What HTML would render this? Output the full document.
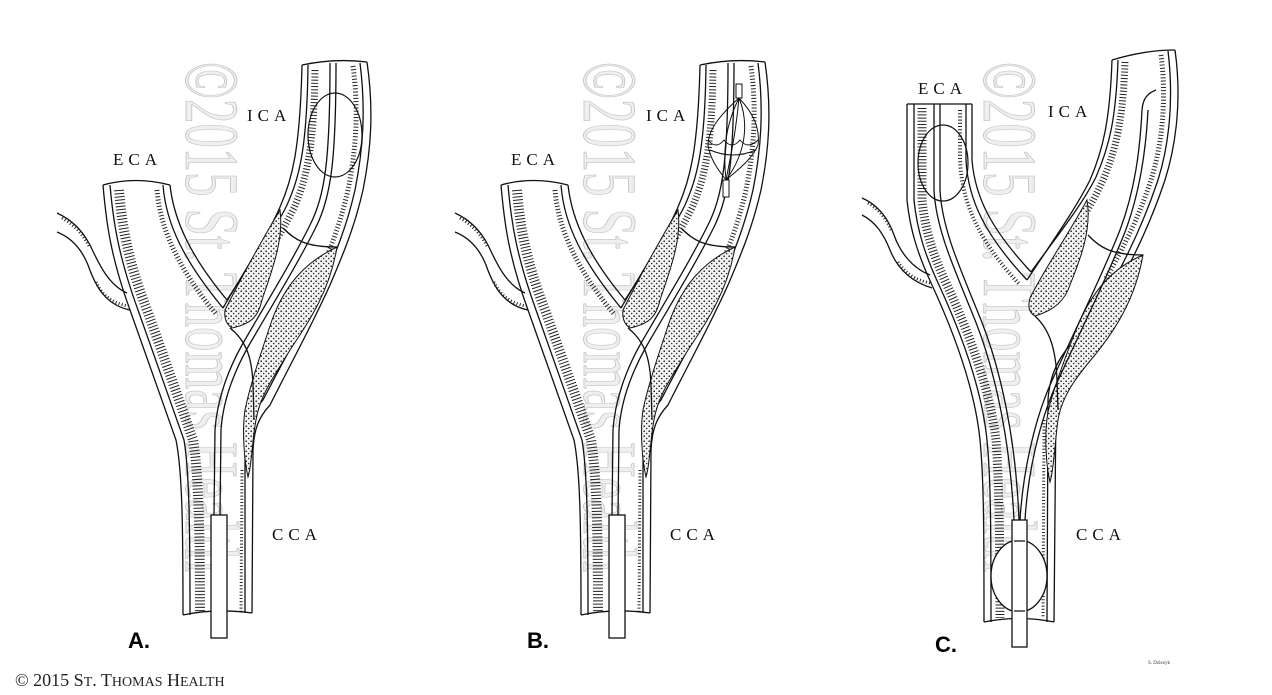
<!DOCTYPE html>
<html><head><meta charset="utf-8"><style>
html,body{margin:0;padding:0;background:#fff;}
svg{display:block;}
.l{fill:none;stroke:#111;stroke-width:1.3;}
.h{fill:none;stroke:#222;stroke-dasharray:1 2.2;}
.t{font-family:"Liberation Serif",serif;font-size:17px;letter-spacing:5px;fill:#111;}
.b{font-family:"Liberation Sans",sans-serif;font-weight:bold;font-size:22px;fill:#000;}
.wm{font-family:"Liberation Serif",serif;font-size:76px;fill:#efefef;stroke:#c4c4c4;stroke-width:0.9;}
</style></head><body>
<svg width="1272" height="695" viewBox="0 0 1272 695" xmlns="http://www.w3.org/2000/svg">
<defs>
<pattern id="dots" width="5" height="5" patternUnits="userSpaceOnUse">
<rect width="5" height="5" fill="#f2f2f2"/>
<circle cx="1.2" cy="1.2" r="0.8" fill="#111"/><circle cx="3.7" cy="3.5" r="0.75" fill="#222"/>
</pattern>
<g id="base">
<path class="l" d="M57,213 C72,220 82,230 90,245 C98,262 108,285 127,293"/>
<path class="l" d="M57,232 C72,238 82,250 88,265 C95,285 105,305 130,310"/>
<path class="h" stroke-width="3" d="M62,218 C76,226 84,236 90,248"/>
<path class="h" stroke-width="3" d="M96,282 C102,295 112,303 128,306"/>
<path class="l" d="M103,185 C106,220 110,255 130,310 C148,360 162,400 176,440 C182,470 183,520 183,615"/>
<path class="l" d="M110,185 C113,220 118,255 138,310 C156,360 170,400 184,440 C189,470 190,520 190,615"/>
<path class="h" stroke-width="10" d="M119,190 C122,225 127,258 147,310 C165,360 179,400 193,440 C198,470 200,520 200,612"/>
<path class="l" d="M103,185 Q135,176 170,185"/>
<path class="l" d="M163,185 C166,225 185,262 223,308"/>
<path class="l" d="M170,185 C174,222 192,258 227,300"/>
<path class="h" stroke-width="5" d="M157,190 C160,228 178,268 216,314"/>
<path class="l" d="M223,308 C245,270 268,235 280,207 C292,180 300,150 302,65"/>
<path class="l" d="M227,300 C249,265 274,232 287,205 C299,178 307,150 308,65"/>
<path class="h" stroke-width="7" d="M315,70 C314,150 306,180 294,208 C284,228 274,244 262,262"/>
<path class="l" d="M302,65 Q335,58 367,62"/>
<path class="l" d="M367,62 C374,110 371,150 363,190 C355,225 345,250 330,285 C312,325 290,365 270,405 C258,418 254,430 253,450 L252,613"/>
<path class="l" d="M360,63 C366,110 363,150 355,190 C347,225 337,250 322,285 C304,325 282,363 263,400 C250,415 246,428 245,450 L245,613"/>
<path class="h" stroke-width="5" d="M353,66 C359,110 356,150 348,190 C340,225 330,250 315,285"/>
<path class="h" stroke-width="3" d="M242,470 L241,612"/>
<path class="l" d="M183,615 Q215,608 252,613"/>
<path fill="url(#dots)" stroke="#111" stroke-width="1" d="M280,210 C284,240 272,270 262,300 C258,318 250,324 232,328 C226,324 224,318 225,310 C240,280 262,240 280,210Z"/>
<path fill="url(#dots)" stroke="#111" stroke-width="1" d="M337,247 C330,290 310,320 290,350 C275,375 260,395 256,420 C252,440 252,465 248,477 C244,460 242,430 245,410 C250,385 262,350 272,320 C285,285 305,262 337,247Z"/>
<path class="l" stroke-width="1" d="M283,228 C295,240 305,247 337,247"/>
<path class="l" stroke-width="1" d="M230,328 C245,340 252,355 253,385 L254,420"/>
<path class="l" d="M214,515 L215,430 C217,400 228,370 242,345 C265,305 290,265 310,225 C325,195 330,160 330,63"/>
<path class="l" d="M220,515 L221,430 C223,400 234,372 248,347 C271,307 296,267 316,227 C331,197 336,160 336,63"/>
<rect x="211" y="515" width="16" height="123" fill="#fff" stroke="#111" stroke-width="1.3"/>
</g>
</defs>

<g transform="translate(186,62) rotate(90)"><text class="wm" textLength="510" lengthAdjust="spacingAndGlyphs">©2015 St. Thomas Health</text></g>
<g transform="translate(584,62) rotate(90)"><text class="wm" textLength="510" lengthAdjust="spacingAndGlyphs">©2015 St. Thomas Health</text></g>
<g transform="translate(984,62) rotate(90)"><text class="wm" textLength="510" lengthAdjust="spacingAndGlyphs">©2015 St. Thomas Health</text></g>

<use href="#base"/>
<ellipse cx="335" cy="135" rx="27" ry="42" fill="none" stroke="#111" stroke-width="1.2"/>
<text class="t" x="247" y="121">ICA</text>
<text class="t" x="113" y="165">ECA</text>
<text class="t" x="272" y="540">CCA</text>
<text class="b" x="128" y="648">A.</text>

<g transform="translate(398,0)"><use href="#base"/></g>
<g fill="none" stroke="#111" stroke-width="1">
<rect x="736" y="84" width="6" height="14" fill="#fff"/>
<rect x="723" y="180" width="6" height="17" fill="#fff"/>
<path d="M739,98 C720,115 708,130 708,145 C710,160 720,172 726,180"/>
<path d="M739,98 C755,115 760,130 758,145 C752,160 735,172 726,180"/>
<path d="M739,98 C728,120 722,145 726,180"/>
<path d="M739,98 C748,120 748,150 726,180"/>
<path d="M739,98 C736,130 732,150 726,180"/>
<path d="M708,140 Q716,150 724,140 Q732,150 740,140 Q748,150 758,140"/>
<path d="M710,150 Q733,160 756,150"/>
</g>
<text class="t" x="646" y="121">ICA</text>
<text class="t" x="511" y="165">ECA</text>
<text class="t" x="670" y="540">CCA</text>
<text class="b" x="527" y="648">B.</text>

<g>
<path class="l" d="M862,198 C878,205 888,218 894,235 C900,252 912,268 930,275"/>
<path class="l" d="M862,215 C876,222 884,235 890,250 C898,270 912,282 932,288"/>
<path class="h" stroke-width="3" d="M868,203 C880,210 887,220 892,232"/>
<path class="h" stroke-width="3" d="M898,262 C906,274 916,280 930,283"/>
<path class="l" d="M907,104 L907,200 C910,230 918,255 932,285 C955,335 975,390 980,440 C984,480 984,540 984,622"/>
<path class="l" d="M914,104 L914,200 C917,230 925,255 939,285 C962,335 982,390 987,440 C991,480 991,540 991,622"/>
<path class="h" stroke-width="9" d="M922,108 L922,200 C925,230 933,255 947,285 C970,335 990,390 996,440 C999,480 1000,540 1000,618"/>
<path class="l" d="M907,104 L972,104"/>
<path class="l" d="M966,104 L966,160 C968,200 985,235 1027,280"/>
<path class="l" d="M972,104 L972,160 C975,198 992,230 1031,272"/>
<path class="h" stroke-width="4" d="M960,110 L960,160 C962,205 980,242 1020,285"/>
<path class="l" d="M1027,280 C1050,245 1075,210 1090,180 C1103,150 1110,120 1112,60"/>
<path class="l" d="M1031,272 C1054,240 1081,207 1096,177 C1109,147 1116,120 1118,60"/>
<path class="h" stroke-width="7" d="M1125,62 C1123,120 1116,150 1103,180 C1092,205 1080,222 1068,238"/>
<path class="l" d="M1112,60 Q1145,50 1175,50"/>
<path class="l" d="M1175,50 C1182,100 1176,145 1165,180 C1150,225 1125,280 1090,330 C1070,355 1058,370 1056,400 L1054,622"/>
<path class="l" d="M1168,51 C1174,100 1169,145 1158,180 C1143,225 1118,280 1083,330 C1063,352 1050,368 1048,400 L1047,622"/>
<path class="h" stroke-width="5" d="M1161,55 C1167,100 1162,145 1151,180 C1138,220 1122,250 1105,280"/>
<path class="h" stroke-width="3" d="M1044,420 L1043,618"/>
<path class="l" d="M984,622 Q1020,615 1054,622"/>
<path fill="url(#dots)" stroke="#111" stroke-width="1" d="M1087,200 C1092,230 1080,260 1070,285 C1065,300 1055,310 1035,316 C1028,312 1028,305 1030,298 C1045,268 1068,235 1087,200Z"/>
<path fill="url(#dots)" stroke="#111" stroke-width="1" d="M1143,255 C1135,300 1115,330 1095,355 C1078,375 1062,395 1058,420 C1055,440 1054,470 1050,482 C1046,465 1044,435 1048,412 C1053,390 1066,355 1078,325 C1092,292 1112,268 1143,255Z"/>
<path class="l" stroke-width="1" d="M1088,235 C1100,248 1112,255 1143,255"/>
<path class="l" stroke-width="1" d="M1035,316 C1050,330 1056,350 1057,380 L1058,410"/>
<path class="l" d="M934,104 L934,190 C936,230 955,270 975,320 C995,370 1010,440 1014,520"/>
<path class="l" d="M940,104 L940,190 C942,230 961,270 981,320 C1001,370 1016,440 1019,520"/>
<ellipse cx="943" cy="163" rx="25" ry="38" fill="none" stroke="#111" stroke-width="1.2"/>
<path class="l" d="M1020,520 C1023,470 1035,420 1050,385 C1075,330 1100,280 1120,230 C1135,190 1140,150 1142,110 C1143,98 1148,93 1156,90"/>
<path class="l" d="M1025,520 C1028,470 1040,422 1055,387 C1080,332 1105,282 1125,232 C1140,192 1146,150 1148,110"/>
<ellipse cx="1019" cy="576" rx="28" ry="36" fill="#fff" stroke="#111" stroke-width="1.3"/>
<rect x="1012" y="520" width="15" height="127" fill="#fff" stroke="#111" stroke-width="1.3"/>
<path class="l" d="M1014,541 L1025,541 M1014,611 L1025,611"/>
</g>
<text class="t" x="918" y="94">ECA</text>
<text class="t" x="1048" y="117">ICA</text>
<text class="t" x="1076" y="540">CCA</text>
<text class="b" x="935" y="652">C.</text>
<text x="1148" y="664" font-family="Liberation Serif,serif" font-size="5" fill="#333">S. Dziezyk</text>

<text x="15" y="686" font-family="Liberation Serif,serif" font-size="18" fill="#222">© 2015 S<tspan font-size="14">T</tspan>. T<tspan font-size="14">HOMAS</tspan> H<tspan font-size="14">EALTH</tspan></text>
</svg>
</body></html>
